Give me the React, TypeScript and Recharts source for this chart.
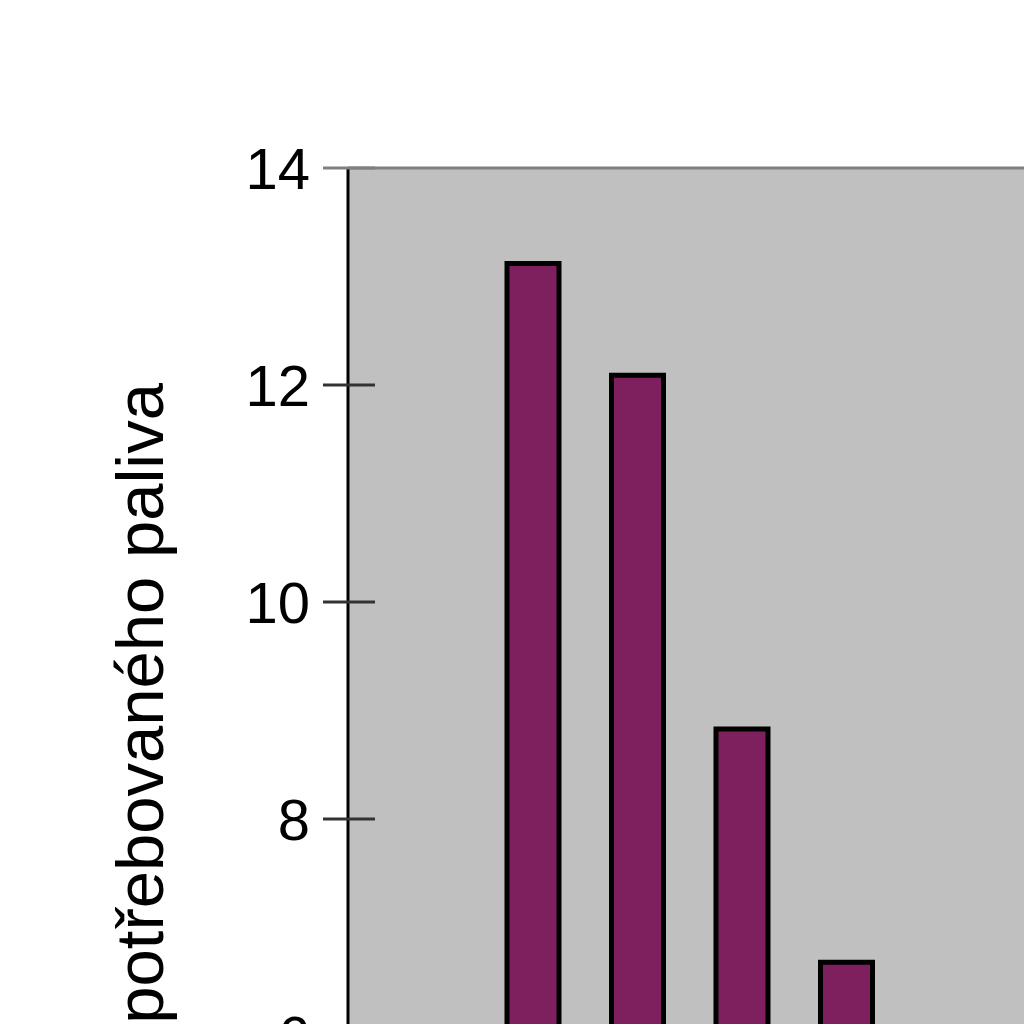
import { BarChart, Bar, XAxis, YAxis, CartesianGrid, ReferenceLine } from 'recharts'

const categories = ['1', '2', '3', '4']
const fuelValues = [13.12, 12.09, 8.83, 6.68]
const yTicks = [0, 2, 4, 6, 8, 10, 12, 14]

const data = categories.map((name, i) => ({ name, value: fuelValues[i] }))

const FONT = '"Liberation Sans", Arial, sans-serif'

function YTick(props: any) {
  const { x, y, payload } = props
  const top = payload.value === 14
  return (
    <g>
      <line x1={x - 25} x2={x + 27} y1={y} y2={y} stroke={top ? '#808080' : '#333'} strokeWidth={3} />
      <text
        x={x - 38}
        y={y}
        dy="0.36em"
        textAnchor="end"
        fontFamily={FONT}
        fontSize={58}
        fill="#000"
      >
        {payload.value}
      </text>
    </g>
  )
}

export default function App() {
  return (
    <div
      style={{
        position: 'absolute',
        top: 0,
        left: 0,
        width: 1024,
        height: 1024,
        overflow: 'hidden',
        background: '#fff',
      }}
    >
      <BarChart
        width={1300}
        height={1700}
        data={data}
        margin={{ top: 168, right: 0, bottom: 13, left: 0 }}
        barSize={52}
      >
        <CartesianGrid horizontal={false} vertical={false} fill="#c0c0c0" />
        <XAxis dataKey="name" hide padding={{ left: 133, right: 401 }} />
        <YAxis
          width={348}
          domain={[0, 14]}
          ticks={yTicks}
          interval={0}
          tickSize={0}
          tickMargin={0}
          axisLine={{ stroke: '#000', strokeWidth: 3 }}
          tick={<YTick />}
        />
        <ReferenceLine y={14} stroke="#808080" strokeWidth={3} />
        <Bar dataKey="value" fill="#7e1f5e" stroke="#000" strokeWidth={5} isAnimationActive={false} />
        <text
          x={163}
          y={383}
          transform="rotate(-90 163 383)"
          textAnchor="end"
          fontFamily={FONT}
          fontSize={67}
          fill="#000"
        >
          spotřebovaného paliva
        </text>
      </BarChart>
    </div>
  )
}
